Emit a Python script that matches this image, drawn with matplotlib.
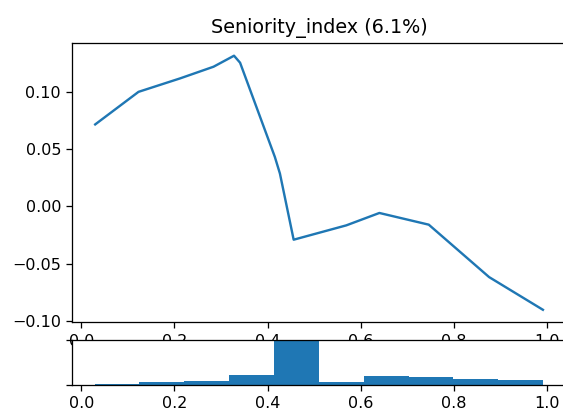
import matplotlib
matplotlib.use("Agg")
import matplotlib.pyplot as plt
import numpy as np

title = "Seniority_index (6.1%)"

# partial-dependence style line
line_x = [0.030, 0.123, 0.212, 0.284, 0.328, 0.341, 0.4156, 0.4265, 0.456,
          0.569, 0.640, 0.746, 0.8755, 0.991]
line_y = [0.0714, 0.0998, 0.1115, 0.1217, 0.1313, 0.1252, 0.0431, 0.0286, -0.0291,
          -0.0166, -0.0058, -0.0160, -0.0617, -0.0902]

# histogram of the feature
bin_edges = [0.029, 0.125, 0.221, 0.318, 0.414, 0.510, 0.606, 0.703, 0.799, 0.895, 0.992]
bin_counts = [30, 67, 90, 230, 1000, 82, 210, 180, 150, 120]

DPI = 115
fig = plt.figure(figsize=(563 / DPI, 416 / DPI), dpi=DPI)

ax_top = fig.add_axes([0.1284, 0.2248, 1.005 - 0.1284, 0.8966 - 0.2248])
ax_bot = fig.add_axes([0.1284, 0.0738, 1.005 - 0.1284, 0.1827 - 0.0738], sharex=ax_top)

ax_top.plot(line_x, line_y, color="#1f77b4", linewidth=1.5)
ax_top.set_title(title)
ax_top.set_yticks([-0.10, -0.05, 0.00, 0.05, 0.10])

centers = [(a + b) / 2 for a, b in zip(bin_edges[:-1], bin_edges[1:])]
ax_bot.hist(centers, bins=bin_edges, weights=bin_counts, color="#1f77b4")
ax_bot.set_ylim(0, max(bin_counts) * 1.01)
ax_bot.set_yticks([0, max(bin_counts)])
ax_bot.set_yticklabels([])
ax_bot.set_xticks([0.0, 0.2, 0.4, 0.6, 0.8, 1.0])

fig.savefig("out.png", dpi=DPI)
